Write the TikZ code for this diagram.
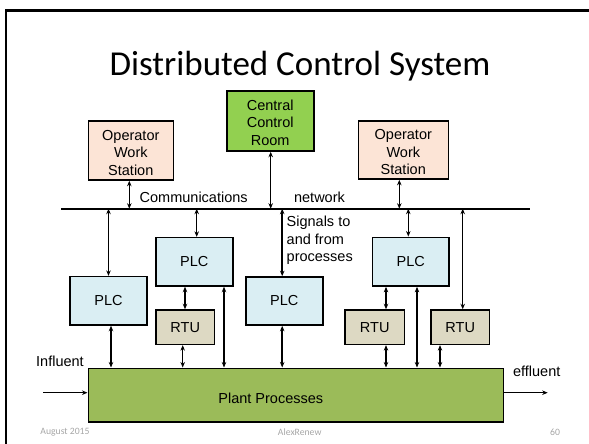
\documentclass[tikz,border=0pt]{standalone}
\usepackage{fontspec}
\setmainfont{Liberation Sans}
\newfontfamily\calib{Carlito}
\usetikzlibrary{arrows.meta}
\definecolor{owsfill}{HTML}{FCE4D6}
\definecolor{ccrfill}{HTML}{92D050}
\definecolor{plcfill}{HTML}{DAEEF3}
\definecolor{rtufill}{HTML}{DDD9C3}
\definecolor{plantfill}{HTML}{9BBB59}
\definecolor{footgray}{HTML}{A6A6A6}
\newcommand\vlink[3]{\path ([xshift=#2pt]#1) coordinate (tmpa); \draw[link] (tmpa) -- (tmpa |- #3);}
\begin{document}
\begin{tikzpicture}[x=1pt,y=-1pt,
  txt/.style={font=\fontsize{14.5}{17.4}\selectfont},
  box/.style={draw=black, line width=1.6pt, inner sep=0pt, align=center, txt},
  ows/.style={box, fill=owsfill},
  ccr/.style={box, fill=ccrfill},
  plc/.style={box, fill=plcfill},
  rtu/.style={box, fill=rtufill},
  plant/.style={box, fill=plantfill},
  lbl/.style={txt, inner sep=0pt},
  foot/.style={font=\calib\fontsize{9.7}{11}\selectfont, text=footgray, inner sep=0pt},
  link/.style={line width=1.5pt, {Stealth[length=5.5pt,width=4.5pt]}-{Stealth[length=5.5pt,width=4.5pt]}},
  oneway/.style={line width=1.5pt, -{Stealth[length=5.5pt,width=4.5pt]}}
]
\useasboundingbox (0,0) rectangle (589,444);
% slide frame
\draw[line width=2.3pt, line join=miter] (6,444) -- (6,10.5) -- (589,10.5);
% title
\node[font=\calib\fontsize{35}{40}\selectfont, inner sep=0pt, anchor=base] (title) at (300,75) {Distributed Control System};
% network line
\coordinate (netL) at (61,208.7);
\coordinate (netR) at (530,208.7);
\draw[line width=2pt] (netL) -- (netR);
% boxes
\node[ows, minimum width=85pt, minimum height=59pt] (owsL) at (130.8,150.5) {\rule{0pt}{14.5pt}Operator\\Work\\Station};
\node[ccr, minimum width=87pt, minimum height=60pt] (ccr) at (270.2,121) {\rule{0pt}{13.5pt}Central\\Control\\Room};
\node[ows, minimum width=90pt, minimum height=58.3pt] (owsR) at (403.3,149.9) {\rule{0pt}{14.5pt}Operator\\Work\\Station};
\node[plc, minimum width=77pt, minimum height=48.3pt] (plc1) at (108.5,300.8) {PLC};
\node[plc, minimum width=77pt, minimum height=48.3pt] (plc2) at (194.2,261.8) {PLC};
\node[plc, minimum width=77pt, minimum height=48pt] (plc3) at (284.2,301) {PLC};
\node[plc, minimum width=76.7pt, minimum height=48.7pt] (plc4) at (410.7,261.7) {PLC};
\node[rtu, minimum width=58.3pt, minimum height=34.3pt] (rtu1) at (185.2,327.2) {RTU};
\node[rtu, minimum width=59.3pt, minimum height=34.3pt] (rtu2) at (374.7,327.2) {RTU};
\node[rtu, minimum width=58.3pt, minimum height=34.3pt] (rtu3) at (460.2,327.2) {RTU};
\node[plant, minimum width=415pt, minimum height=53.4pt] (plant) at (295.8,395) {};
\node[lbl] (plantlbl) at (270.8,398.3) {Plant Processes};
% labels
\node[lbl] (comm) at (193.7,197.3) {Communications};
\node[lbl] (netw) at (319.5,197.3) {network};
\node[lbl, align=left, anchor=west] (sig) at (286.5,240.5) {Signals to\\and from\\processes};
\node[lbl] (infl) at (60,361) {Influent};
\node[lbl] (effl) at (536.7,371.7) {effluent};
% top connectors
\vlink{owsL.south}{-1.5}{netL}
\vlink{ccr.south}{0.5}{netL}
\vlink{owsR.south}{-4}{netL}
% network to devices
\vlink{plc1.north}{0}{netL}
\vlink{plc2.north}{2.5}{netL}
\vlink{plc3.north}{-2}{netL}
\vlink{plc4.north}{-2.4}{netL}
\vlink{rtu3.north}{2.5}{netL}
% devices to devices / plant
\vlink{plc1.south}{2.5}{plant.north}
\vlink{plc2.south}{-9.2}{rtu1.north}
\vlink{rtu1.south}{-2.5}{plant.north}
\vlink{plc2.south}{29.8}{plant.north}
\vlink{plc3.south}{-2}{plant.north}
\vlink{plc4.south}{-24.7}{rtu2.north}
\vlink{rtu2.south}{11.3}{plant.north}
\vlink{plc4.south}{6.3}{plant.north}
\vlink{rtu3.south}{-20.2}{plant.north}
% influent / effluent
\coordinate (inStart) at (43.3,392.7);
\coordinate (outEnd) at (547.7,392.7);
\draw[oneway] (inStart) -- (inStart -| plant.west);
\draw[oneway] (outEnd -| plant.east) -- (outEnd);
% footer
\node[foot] (date) at (65,432) {August 2015};
\node[foot] (org) at (299.7,432) {AlexRenew};
\node[foot] (page) at (555,432) {60};
\end{tikzpicture}
\end{document}
